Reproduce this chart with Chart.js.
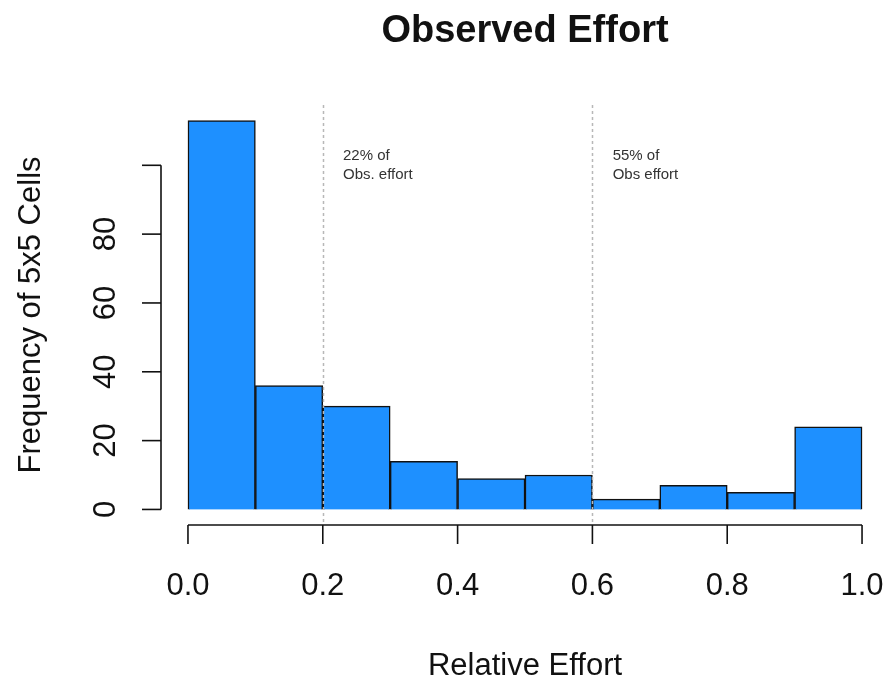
<!DOCTYPE html>
<html>
<head>
<meta charset="utf-8">
<title>Observed Effort</title>
<script src="https://cdn.jsdelivr.net/npm/chart.js@4"></script>
<style>
  body { margin: 0; background: #fff; }
  canvas { display: block; }
</style>
</head>
<body>
<canvas id="myChart" width="889" height="684"></canvas>
<script>
// histogram bins (relative effort) and counts
var binMids = [0.05, 0.15, 0.25, 0.35, 0.45, 0.55, 0.65, 0.75, 0.85, 0.95];
var counts = [113, 36, 30, 14, 9, 10, 3, 7, 5, 24];
var binEdges = [0, 0.1, 0.2, 0.3, 0.4, 0.5, 0.6, 0.7, 0.8, 0.9, 1.0];

var xTicks = [0, 0.2, 0.4, 0.6, 0.8, 1.0];
var xTickLabels = ['0.0', '0.2', '0.4', '0.6', '0.8', '1.0'];
var yTicks = [0, 20, 40, 60, 80, 100];
var yTickLabels = ['0', '20', '40', '60', '80', ''];

// reference lines and their notes
var refLines = [0.2, 0.6];
var refNotes = [['22% of', 'Obs. effort'], ['55% of', 'Obs effort']];

var font = '"Liberation Sans", Arial, sans-serif';

var rAxes = {
    id: 'rAxes',
    afterDatasetsDraw: function(chart) {
        var ctx = chart.ctx;
        var xs = chart.scales.x;
        var ys = chart.scales.y;
        var area = chart.chartArea;

        // dotted reference lines + notes
        ctx.save();
        ctx.strokeStyle = '#b8b8b8';
        ctx.lineWidth = 1.5;
        ctx.setLineDash([3, 3]);
        refLines.forEach(function(v, i) {
            var px = Math.round(xs.getPixelForValue(v)) + 0.5;
            ctx.beginPath();
            ctx.moveTo(px, area.top);
            ctx.lineTo(px, area.bottom);
            ctx.stroke();
        });
        ctx.setLineDash([]);
        ctx.fillStyle = '#333';
        ctx.font = '15px ' + font;
        ctx.textAlign = 'left';
        ctx.textBaseline = 'alphabetic';
        refLines.forEach(function(v, i) {
            var px = xs.getPixelForValue(v + 0.03);
            refNotes[i].forEach(function(line, j) {
                ctx.fillText(line, px, area.top + 55 + j * 19);
            });
        });
        ctx.restore();

        // y axis
        ctx.save();
        ctx.strokeStyle = '#111';
        ctx.lineWidth = 1.6;
        var ax = area.left;
        ctx.beginPath();
        ctx.moveTo(ax, ys.getPixelForValue(yTicks[yTicks.length - 1]));
        ctx.lineTo(ax, ys.getPixelForValue(yTicks[0]));
        ctx.stroke();
        yTicks.forEach(function(v) {
            var py = ys.getPixelForValue(v);
            ctx.beginPath();
            ctx.moveTo(ax - 19, py);
            ctx.lineTo(ax, py);
            ctx.stroke();
        });
        ctx.fillStyle = '#111';
        ctx.font = '31px ' + font;
        ctx.textAlign = 'center';
        ctx.textBaseline = 'alphabetic';
        yTicks.forEach(function(v, i) {
            var py = ys.getPixelForValue(v);
            ctx.save();
            ctx.translate(115, py);
            ctx.rotate(-Math.PI / 2);
            ctx.fillText(yTickLabels[i], 0, 0);
            ctx.restore();
        });

        // x axis
        var ay = area.bottom;
        var x0 = xs.getPixelForValue(xTicks[0]);
        var x1 = xs.getPixelForValue(xTicks[xTicks.length - 1]);
        ctx.beginPath();
        ctx.moveTo(x0, ay);
        ctx.lineTo(x1, ay);
        ctx.stroke();
        xTicks.forEach(function(v, i) {
            var px = xs.getPixelForValue(v);
            ctx.beginPath();
            ctx.moveTo(px, ay);
            ctx.lineTo(px, ay + 19);
            ctx.stroke();
            ctx.fillText(xTickLabels[i], px, 595);
        });

        // titles
        ctx.fillText('Relative Effort', (area.left + area.right) / 2, 675);
        ctx.save();
        ctx.translate(40, (area.top + area.bottom) / 2);
        ctx.rotate(-Math.PI / 2);
        ctx.fillText('Frequency of 5x5 Cells', 0, 0);
        ctx.restore();
        ctx.font = 'bold 38px ' + font;
        ctx.fillText('Observed Effort', (area.left + area.right) / 2, 42);
        ctx.restore();
    }
};

var ctx = document.getElementById('myChart').getContext('2d');
var chart = new Chart(ctx, {
    type: 'bar',
    data: {
        datasets: [{
            label: 'Frequency',
            data: binMids.map(function(m, i) { return { x: m, y: counts[i] }; }),
            backgroundColor: '#1E90FF',
            borderColor: '#111',
            borderWidth: 1.5,
            barPercentage: 1,
            categoryPercentage: 1
        }]
    },
    options: {
        responsive: false,
        animation: false,
        devicePixelRatio: 1,
        layout: { padding: { left: 161, right: 0, top: 105, bottom: 159 } },
        plugins: {
            legend: { display: false },
            tooltip: { enabled: false },
            title: { display: false }
        },
        scales: {
            x: {
                type: 'linear',
                display: false,
                offset: false,
                min: -0.04,
                max: 1.04,
                afterBuildTicks: function(scale) {
                    scale.ticks = binEdges.map(function(v) { return { value: v }; });
                }
            },
            y: {
                display: false,
                min: -4.52,
                max: 117.52
            }
        }
    },
    plugins: [rAxes]
});
</script>
</body>
</html>
